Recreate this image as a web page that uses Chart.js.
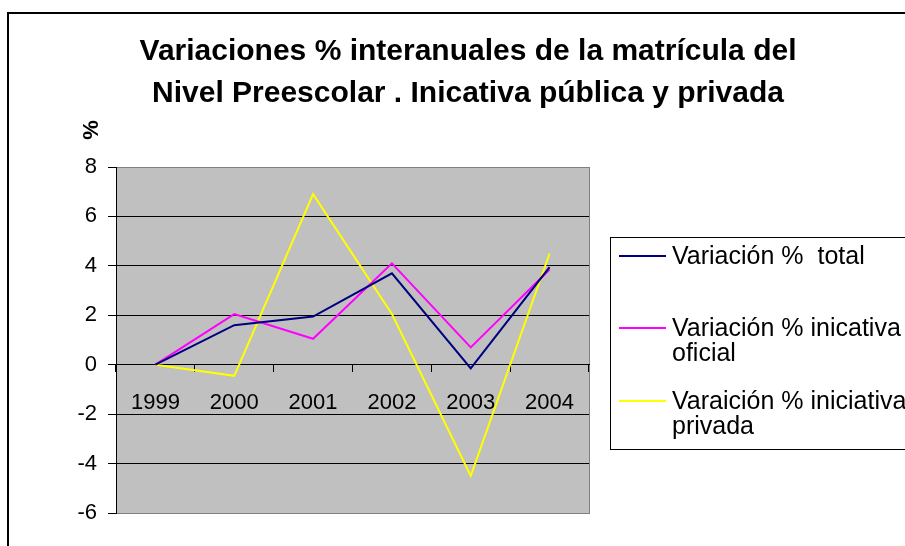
<!DOCTYPE html>
<html>
<head>
<meta charset="utf-8">
<title>Variaciones % interanuales - Nivel Preescolar</title>
<script src="https://cdn.jsdelivr.net/npm/chart.js@4/dist/chart.umd.min.js"></script>
<style>
    html, body { margin: 0; padding: 0; background: #fff; }
    canvas { display: block; }
</style>
</head>
<body>
<canvas id="chart" width="905" height="546"></canvas>
<script>
// Data
const years = ['1999', '2000', '2001', '2002', '2003', '2004'];
const varTotal = [0, 1.6, 1.95, 3.7, -0.15, 3.95];
const varOficial = [0, 2.05, 1.05, 4.1, 0.7, 3.85];
const varPrivada = [0, -0.45, 6.9, 2.05, -4.5, 4.5];
const seriesNames = [
    ['Variación %  total'],
    ['Variación % inicativa', 'oficial'],
    ['Varaición % iniciativa', 'privada']
];
const seriesColors = ['#000080', '#ff00ff', '#ffff00'];
const yTicks = [-6, -4, -2, 0, 2, 4, 6, 8];
const titleLines = [
    'Variaciones % interanuales de la matrícula del',
    'Nivel Preescolar . Inicativa pública y privada'
];
const yTitle = '%';

const FONT = '"Liberation Sans", Arial, sans-serif';

// Excel-like frame, plot background, title and legend
const decor = {
    id: 'decor',
    beforeDraw(chart) {
        const { ctx, chartArea: a } = chart;
        ctx.save();
        ctx.fillStyle = '#fff';
        ctx.fillRect(0, 0, chart.width, chart.height);
        ctx.fillStyle = '#c0c0c0';
        ctx.fillRect(a.left, a.top, a.right - a.left, a.bottom - a.top);
        ctx.strokeStyle = '#808080';
        ctx.lineWidth = 1;
        ctx.strokeRect(a.left + 0.5, a.top + 0.5, a.right - a.left, a.bottom - a.top);
        ctx.restore();
    },
    afterDraw(chart) {
        const ctx = chart.ctx;
        ctx.save();

        // outer border (runs off the right and bottom edges)
        ctx.strokeStyle = '#000';
        ctx.lineWidth = 2;
        ctx.strokeRect(8, 13, chart.width + 20, chart.height + 20);

        // title
        ctx.fillStyle = '#000';
        ctx.font = 'bold 30px ' + FONT;
        ctx.textAlign = 'center';
        ctx.textBaseline = 'middle';
        titleLines.forEach((line, i) => ctx.fillText(line, 468, 52 + i * 42));

        // y axis title
        ctx.save();
        ctx.translate(92, 130);
        ctx.rotate(-Math.PI / 2);
        ctx.font = 'bold 22px ' + FONT;
        ctx.fillText(yTitle, 0, 0);
        ctx.restore();

        // legend
        ctx.strokeStyle = '#000';
        ctx.lineWidth = 1;
        ctx.strokeRect(610.5, 237.5, 320, 212);
        const rows = [256, 328, 401];
        ctx.font = '25px ' + FONT;
        ctx.textAlign = 'left';
        chart.data.datasets.forEach((ds, i) => {
            ctx.strokeStyle = ds.borderColor;
            ctx.lineWidth = 2;
            ctx.beginPath();
            ctx.moveTo(619, rows[i]);
            ctx.lineTo(666, rows[i]);
            ctx.stroke();
            ctx.fillStyle = '#000';
            seriesNames[i].forEach((txt, j) => ctx.fillText(txt, 672, rows[i] + 1 + j * 25));
        });
        ctx.restore();
    }
};

new Chart(document.getElementById('chart'), {
    type: 'line',
    data: {
        labels: years,
        datasets: [
            { label: seriesNames[0].join(' '), data: varTotal, borderColor: seriesColors[0] },
            { label: seriesNames[1].join(' '), data: varOficial, borderColor: seriesColors[1] },
            { label: seriesNames[2].join(' '), data: varPrivada, borderColor: seriesColors[2] }
        ].map(ds => Object.assign(ds, { borderWidth: 2, pointRadius: 0, tension: 0, fill: false }))
    },
    options: {
        responsive: false,
        animation: false,
        devicePixelRatio: 1,
        layout: { padding: { left: 66, right: 316, top: 167, bottom: 33 } },
        plugins: {
            legend: { display: false },
            title: { display: false },
            tooltip: { enabled: false }
        },
        scales: {
            x: {
                position: { y: 0 },
                offset: true,
                border: { color: '#000', width: 1 },
                grid: { offset: true, drawOnChartArea: false, tickLength: 7, color: '#000' },
                ticks: { color: '#000', font: { family: FONT, size: 22 }, padding: 18, maxRotation: 0, autoSkip: false }
            },
            y: {
                min: -6,
                max: 8,
                afterBuildTicks: s => { s.ticks = yTicks.map(v => ({ value: v })); },
                afterFit: s => { s.width = 50; },
                border: { color: '#000', width: 1 },
                grid: {
                    color: c => (c.tick && (c.tick.value === 8 || c.tick.value === -6)) ? '#808080' : '#000',
                    tickColor: '#000',
                    tickLength: 8
                },
                ticks: { color: '#000', font: { family: FONT, size: 22 }, padding: 11 }
            }
        }
    },
    plugins: [decor]
});
</script>
</body>
</html>
